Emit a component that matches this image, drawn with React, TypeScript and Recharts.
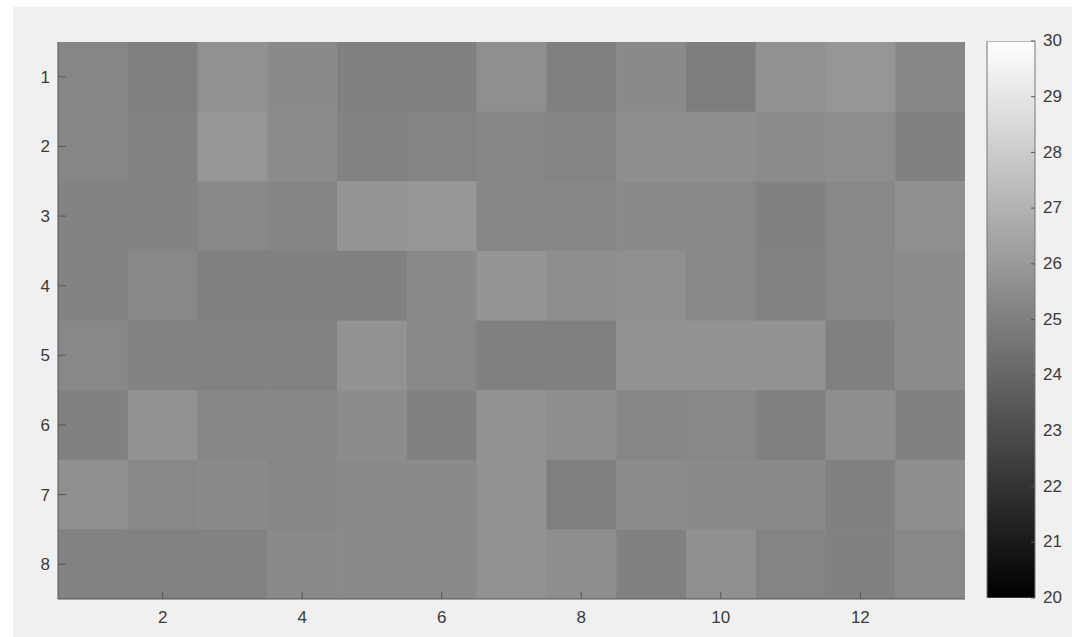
import { ScatterChart, Scatter, XAxis, YAxis, BarChart, Bar } from "recharts";

// 8 x 13 grid of readings, one array per row (row 1 at the top)
const row1 = [25.25, 25.02, 25.73, 25.41, 25.0, 25.02, 25.62, 25.0, 25.41, 24.96, 25.73, 25.88, 25.3];
const row2 = [25.25, 25.1, 25.88, 25.49, 25.1, 25.18, 25.25, 25.18, 25.55, 25.55, 25.45, 25.53, 25.06];
const row3 = [25.12, 25.12, 25.33, 25.18, 25.8, 25.88, 25.25, 25.25, 25.41, 25.33, 25.04, 25.33, 25.65];
const row4 = [25.12, 25.33, 25.02, 25.02, 25.0, 25.41, 25.85, 25.57, 25.65, 25.33, 25.1, 25.33, 25.49];
const row5 = [25.33, 25.1, 25.1, 25.1, 25.73, 25.33, 25.0, 25.0, 25.73, 25.73, 25.73, 25.0, 25.49];
const row6 = [25.04, 25.73, 25.25, 25.25, 25.49, 25.04, 25.73, 25.57, 25.25, 25.33, 25.0, 25.57, 25.04];
const row7 = [25.65, 25.33, 25.41, 25.25, 25.41, 25.41, 25.73, 24.98, 25.49, 25.41, 25.41, 25.04, 25.57];
const row8 = [25.1, 25.1, 25.1, 25.41, 25.41, 25.41, 25.73, 25.57, 25.04, 25.65, 25.18, 25.04, 25.33];
const rows = [row1, row2, row3, row4, row5, row6, row7, row8];

const rowTicks = [1, 2, 3, 4, 5, 6, 7, 8];
const colTicks = [2, 4, 6, 8, 10, 12];
const cbarTicks = [20, 21, 22, 23, 24, 25, 26, 27, 28, 29, 30];
const cmin = 20;
const cmax = 30;

const cells = rows.flatMap((vals, r) => vals.map((value, c) => ({ col: c + 1, row: r + 1, value })));

// layout
const W = 1072;
const H = 637;
const LEFT = 58;
const RIGHT = 965;
const TOP = 42;
const BOTTOM = 599;
const CW = (RIGHT - LEFT) / row1.length;
const CH = (BOTTOM - TOP) / rows.length;
const XDOM: [number, number] = [0.5, row1.length + 0.5];
const YDOM: [number, number] = [0.5, rows.length + 0.5];

const AXIS = "#555";
const FONT = { fontFamily: "'Liberation Sans', Arial, sans-serif", fontSize: 17, fill: "#3a3a3a" };

function gray(v: number) {
  const t = Math.min(1, Math.max(0, (v - cmin) / (cmax - cmin)));
  const g = Math.round(t * 255);
  return `rgb(${g},${g},${g})`;
}

const CellRect = (p: any) => (
  <rect x={p.cx - CW / 2} y={p.cy - CH / 2} width={CW + 0.6} height={CH + 0.6} fill={gray(p.payload.value)} />
);
const NoMark = () => <g />;

const BottomTick = ({ x, y, payload }: any) => (
  <g>
    <line x1={x} x2={x} y1={y - 12} y2={y - 19} stroke={AXIS} />
    <text x={x} y={y} dy="0.71em" textAnchor="middle" {...FONT}>{payload.value}</text>
  </g>
);

const TopTick = ({ x, y }: any) => <line x1={x} x2={x} y1={y} y2={y + 7} stroke={AXIS} />;

const LeftTick = ({ x, y, payload }: any) => (
  <g>
    <line x1={x + 8} x2={x + 16} y1={y} y2={y} stroke={AXIS} />
    <text x={x} y={y} dy="0.35em" textAnchor="end" {...FONT}>{payload.value}</text>
  </g>
);

const RightTick = ({ x, y }: any) => <line x1={x} x2={x - 8} y1={y} y2={y} stroke={AXIS} />;

const CbarTick = ({ x, y, payload }: any) => (
  <g>
    <line x1={x - 8} x2={x - 12} y1={y} y2={y} stroke={AXIS} />
    <text x={x} y={y} dy="0.3em" textAnchor="start" {...FONT}>{payload.value}</text>
  </g>
);

const cbarData = [{ name: "cbar", range: [cmin, cmax] }];

export default function App() {
  return (
    <div style={{ position: "absolute", left: 0, top: 0, width: W, height: H, background: "#fff" }}>
      <div style={{ position: "absolute", left: 13, top: 7, right: 0, bottom: 0, background: "#f0f0f0" }} />

      {/* image cells */}
      <div style={{ position: "absolute", left: 0, top: 0 }}>
        <ScatterChart width={W} height={H} margin={{ top: TOP, left: LEFT, right: W - RIGHT, bottom: H - BOTTOM }}>
          <XAxis type="number" dataKey="col" domain={XDOM} allowDataOverflow hide />
          <YAxis type="number" dataKey="row" domain={YDOM} reversed allowDataOverflow hide />
          <Scatter data={cells} shape={CellRect} isAnimationActive={false} />
        </ScatterChart>
      </div>

      {/* axes box with inward ticks, drawn over the cells */}
      <div style={{ position: "absolute", left: 0, top: 0 }}>
        <ScatterChart width={W} height={H} margin={{ top: TOP, left: LEFT - 30, right: W - RIGHT, bottom: 0 }}>
          <XAxis
            type="number"
            dataKey="col"
            domain={XDOM}
            ticks={colTicks}
            allowDataOverflow
            height={H - BOTTOM}
            tickSize={0}
            tickMargin={12}
            tickLine={false}
            tick={<BottomTick />}
            axisLine={{ stroke: AXIS }}
          />
          <XAxis
            xAxisId="top"
            orientation="top"
            type="number"
            domain={XDOM}
            ticks={colTicks}
            allowDataOverflow
            height={0}
            tickSize={0}
            tickMargin={0}
            tickLine={false}
            tick={<TopTick />}
            axisLine={{ stroke: AXIS }}
          />
          <YAxis
            type="number"
            dataKey="row"
            domain={YDOM}
            ticks={rowTicks}
            reversed
            allowDataOverflow
            width={30}
            tickSize={0}
            tickMargin={8}
            tickLine={false}
            tick={<LeftTick />}
            axisLine={{ stroke: AXIS }}
          />
          <YAxis
            yAxisId="right"
            orientation="right"
            type="number"
            domain={YDOM}
            ticks={rowTicks}
            reversed
            allowDataOverflow
            width={0}
            tickSize={0}
            tickMargin={0}
            tickLine={false}
            tick={<RightTick />}
            axisLine={{ stroke: AXIS }}
          />
          <Scatter data={cells} shape={NoMark} isAnimationActive={false} />
        </ScatterChart>
      </div>

      {/* colour bar */}
      <div style={{ position: "absolute", left: 960, top: 0 }}>
        <BarChart width={112} height={H} data={cbarData} margin={{ top: 41, left: 27, right: 0, bottom: H - 598 }} barCategoryGap={0}>
          <defs>
            <linearGradient id="grayMap" x1="0" y1="0" x2="0" y2="1">
              <stop offset="0%" stopColor="#ffffff" />
              <stop offset="100%" stopColor="#000000" />
            </linearGradient>
          </defs>
          <XAxis dataKey="name" hide />
          <YAxis
            orientation="right"
            type="number"
            domain={[cmin, cmax]}
            ticks={cbarTicks}
            allowDataOverflow
            width={37}
            tickSize={0}
            tickMargin={8}
            tickLine={false}
            axisLine={false}
            tick={<CbarTick />}
          />
          <Bar dataKey="range" fill="url(#grayMap)" stroke="#777" isAnimationActive={false} />
        </BarChart>
      </div>
    </div>
  );
}
